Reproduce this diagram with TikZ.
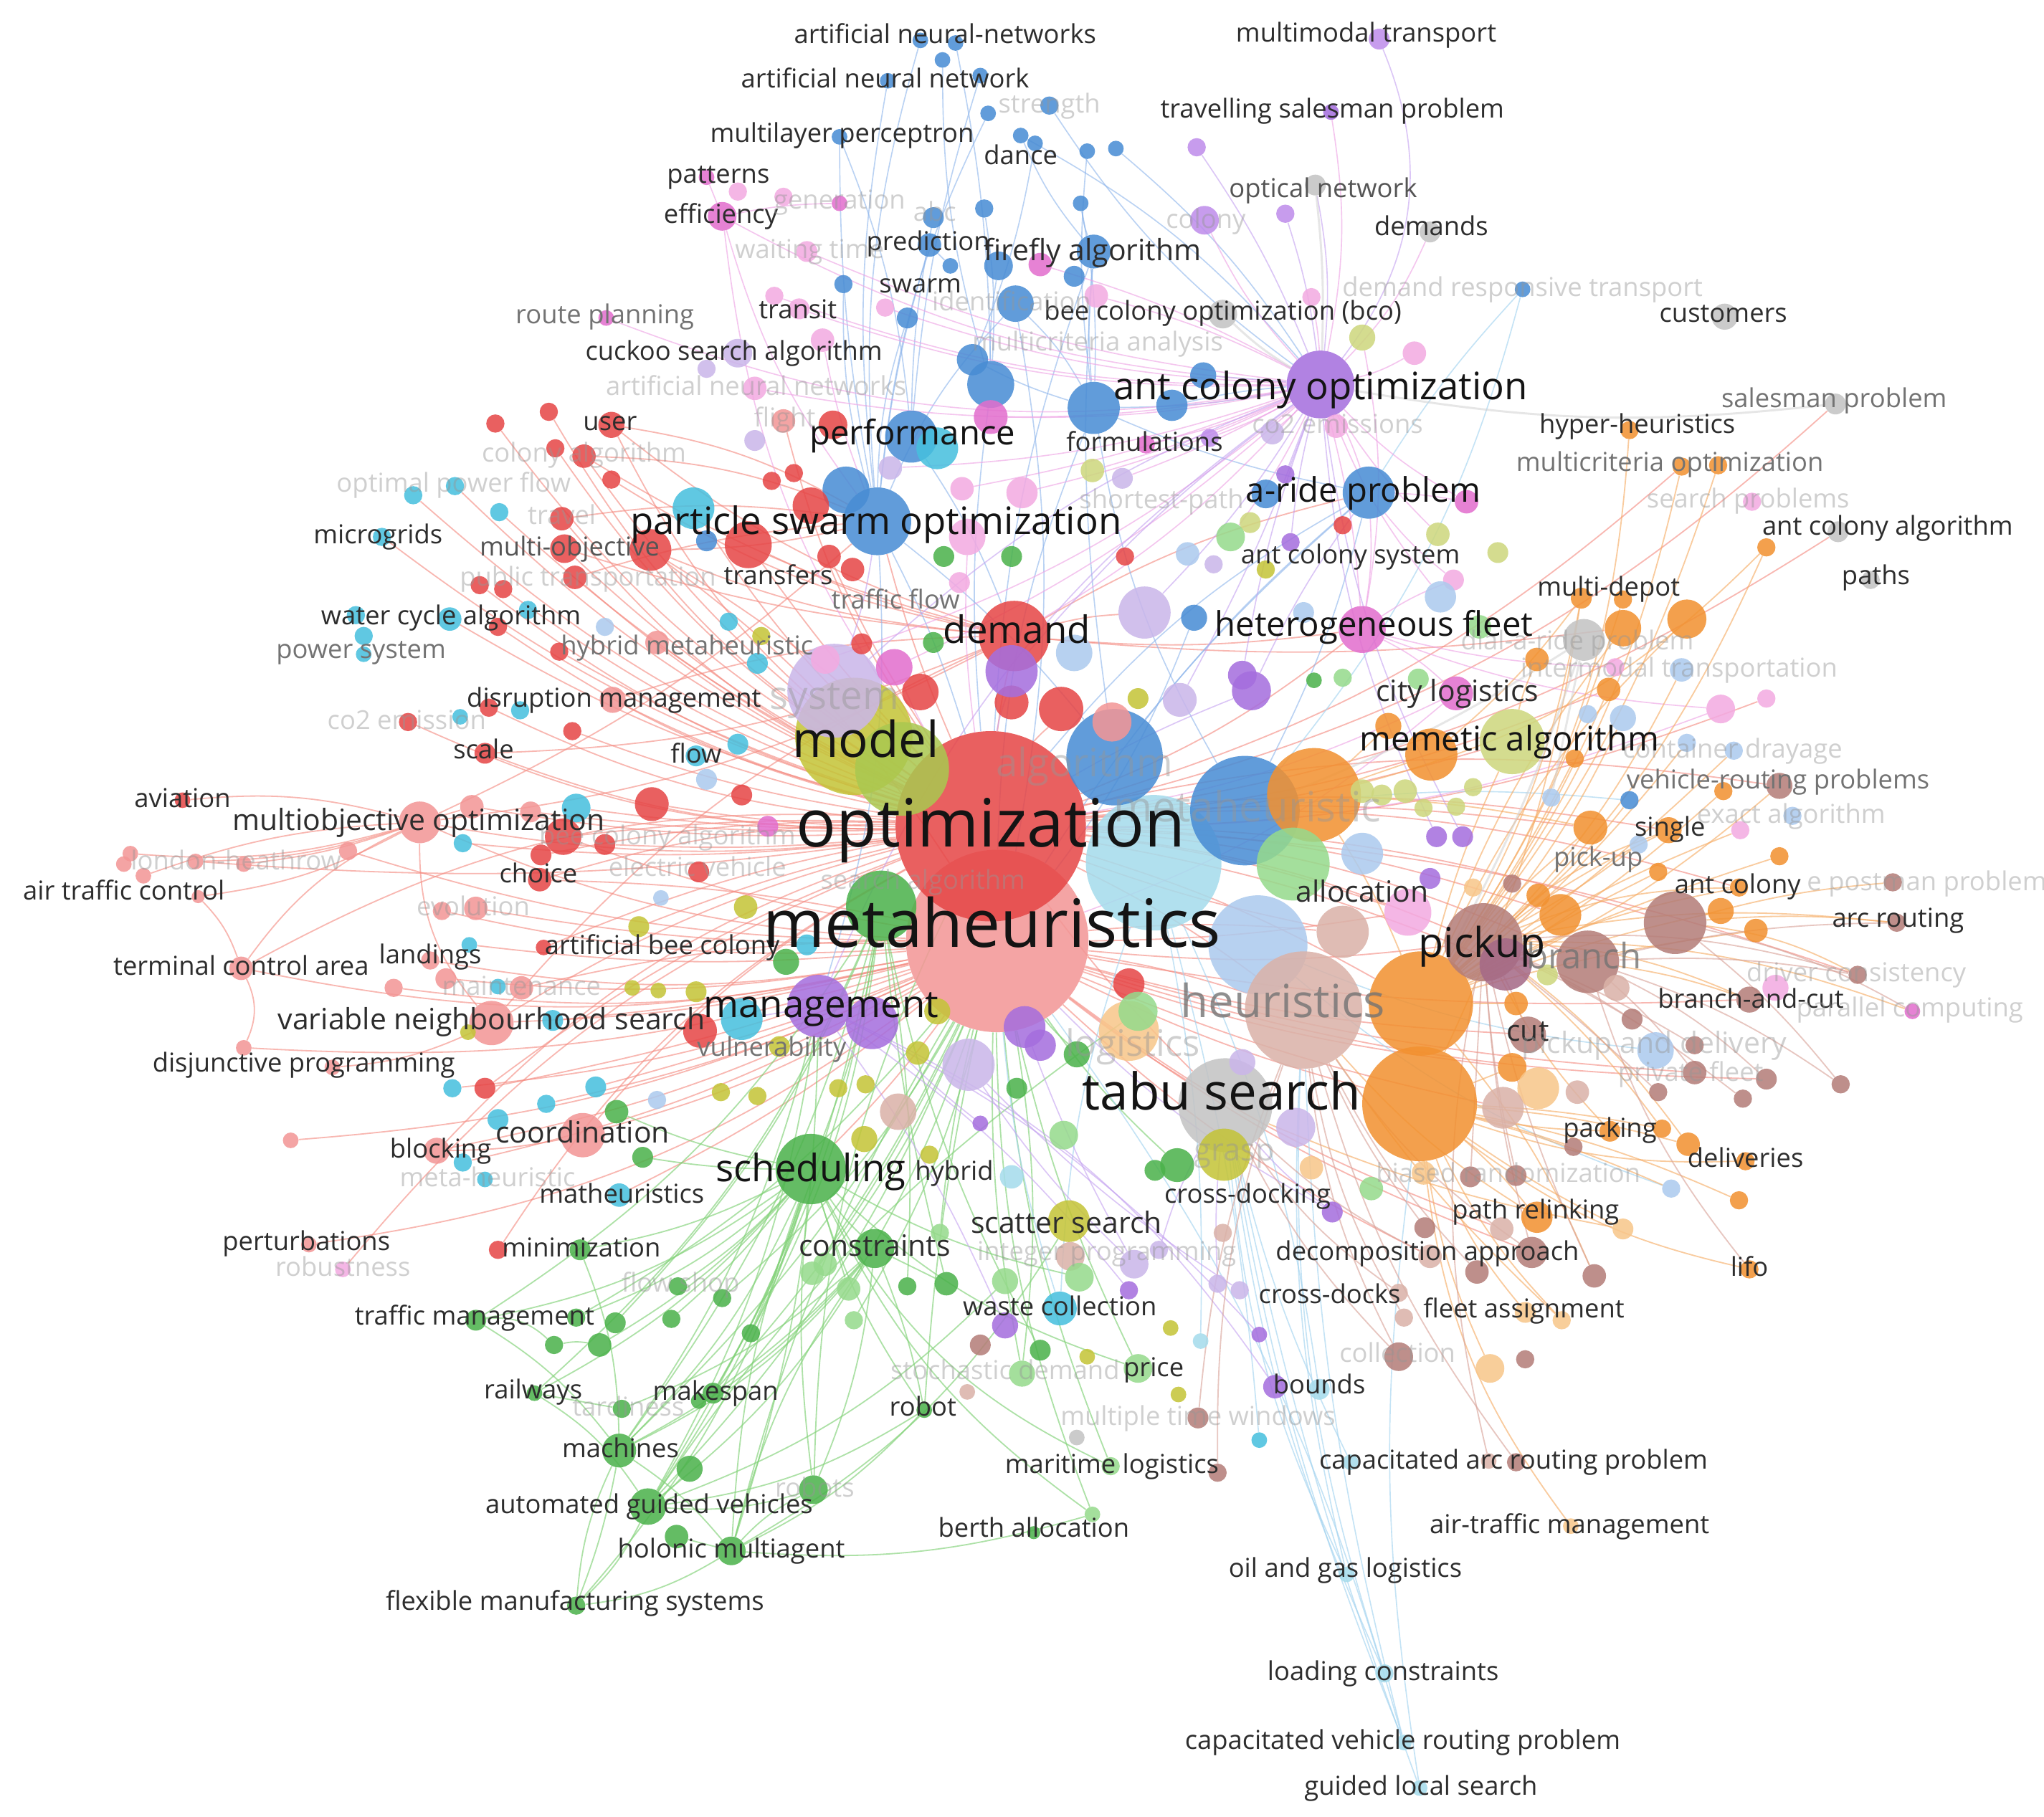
\documentclass[tikz,border=0pt]{standalone}
\usepackage{fontspec}
\setmainfont{Open Sans}
\pgfdeclarelayer{bg}
\pgfsetlayers{bg,main}
\definecolor{cR}{RGB}{230,70,70}
\definecolor{cS}{RGB}{243,150,150}
\definecolor{cB}{RGB}{72,140,212}
\definecolor{cC}{RGB}{70,192,222}
\definecolor{cG}{RGB}{75,178,75}
\definecolor{cLG}{RGB}{150,218,140}
\definecolor{cY}{RGB}{196,196,55}
\definecolor{cYG}{RGB}{205,215,125}
\definecolor{cYG2}{RGB}{170,200,80}
\definecolor{cP}{RGB}{165,110,222}
\definecolor{cP2}{RGB}{190,140,235}
\definecolor{cLP}{RGB}{202,182,234}
\definecolor{cM}{RGB}{226,110,205}
\definecolor{cLM}{RGB}{243,170,225}
\definecolor{cO}{RGB}{242,145,48}
\definecolor{cLO}{RGB}{248,198,138}
\definecolor{cBr}{RGB}{180,125,120}
\definecolor{cBr2}{RGB}{165,105,135}
\definecolor{cLBr}{RGB}{218,178,168}
\definecolor{cGr}{RGB}{195,195,195}
\definecolor{cLB}{RGB}{172,202,238}
\definecolor{cLC}{RGB}{165,220,236}
\definecolor{eR}{RGB}{245,140,130}
\definecolor{eG}{RGB}{130,210,120}
\definecolor{eB}{RGB}{140,180,235}
\definecolor{eLB}{RGB}{165,212,240}
\definecolor{eP}{RGB}{238,160,228}
\definecolor{ePu}{RGB}{195,160,240}
\definecolor{eO}{RGB}{246,172,100}
\definecolor{eBr}{RGB}{215,160,150}
\definecolor{eGr}{RGB}{210,210,210}
\definecolor{txt}{RGB}{45,45,45}
\definecolor{txtb}{RGB}{20,20,20}
\definecolor{txtg}{RGB}{115,115,115}
\definecolor{txtg2}{RGB}{85,85,85}
\definecolor{txtf}{RGB}{150,150,150}
\newcommand\fsz[1]{\fontsize{#1}{#1}\selectfont}
\begin{document}
\begin{tikzpicture}[x=1pt,y=-1pt,
  dot/.style={circle,inner sep=0pt,draw=none,fill opacity=0.86},
  lab/.style={anchor=base,inner sep=0pt,text=txt,font=\fsz{20},yshift=-5.4pt},
  labm/.style={anchor=base,inner sep=0pt,text=txt,font=\fsz{22.5},yshift=-6.1pt},
  labg/.style={anchor=base,inner sep=0pt,text=txtg,font=\fsz{20},yshift=-5.4pt},
  labg2/.style={anchor=base,inner sep=0pt,text=txtg2,font=\fsz{20},yshift=-5.4pt},
  labf/.style={anchor=base,inner sep=0pt,text=txtf,text opacity=0.45,font=\fsz{20},yshift=-5.4pt},
  big/.style={anchor=base,inner sep=0pt,text=txtb,font=\fsz{#1},yshift=-0.27*#1 pt},
  bigg/.style={anchor=base,inner sep=0pt,text=txtg,text opacity=0.8,font=\fsz{#1},yshift=-0.27*#1 pt},
  bigf/.style={anchor=base,inner sep=0pt,text=txtf,text opacity=0.45,font=\fsz{#1},yshift=-0.27*#1 pt},
  ered/.style={draw=eR,line width=1pt,draw opacity=0.62},
  egreen/.style={draw=eG,line width=1pt,draw opacity=0.65},
  eblue/.style={draw=eB,line width=0.9pt,draw opacity=0.6},
  elblue/.style={draw=eLB,line width=0.9pt,draw opacity=0.65},
  epink/.style={draw=eP,line width=0.9pt,draw opacity=0.6},
  epurple/.style={draw=ePu,line width=0.9pt,draw opacity=0.6},
  eorange/.style={draw=eO,line width=1pt,draw opacity=0.62},
  ebrown/.style={draw=eBr,line width=1pt,draw opacity=0.6},
  egrey/.style={draw=eGr,line width=1.6pt,draw opacity=0.55}]
\useasboundingbox (0,0) rectangle (1568,1394);

% ---------------- circles (big first) ----------------
\foreach \nm/\px/\py/\rr/\cc in {
 meta/765/722/70/cS, opt/760/634/73/cR, lcyan/885/662/52/cLC, lblue2/965/725/38/cLB,
 model/655/565/45/cY, modelg/692/590/36/cYG2, algo/855/581/37/cB, mh/955/622/42/cB,
 mhO/1008/610/36/cO, greenC/676/695/27/cG, lgreenR/992/663/28/cLG, sysP/640/530/36/cLP,
 heur/1000/775/45/cLBr, orA/1090/770/40/cO, orB/1089/847/44/cO, tabu/940/848/36/cGr,
 pick/1138/723/30/cBr, branch/1218/738/24/cBr, bigbr/1285/708/24/cBr, pick2/1155/740/20/cBr2,
 demand/778/488/27/cR, aco/1013/295/26/cP, pso/673/400/26/cB, pso2/649/376/18/cB,
 perf/699/335/20/cB, perfc/719/344/16/cC, sched/622/897/27/cG, mgmt/628/772/24/cP,
 mgmt2/669/785/20/cP, mgmt3/743/817/20/cLP, mem/1160/569/25/cYG, memO/1098/579/20/cO,
 aride/1050/378/20/cB, hetero/1045/483/18/cM, moo/322/631/16/cS, vns/377/785/17/cS,
 coord/447/871/17/cS, logi/866/791/23/cLO, grasp/939/886/20/cY, lbr1/1030/715/20/cLBr,
 lpk1/1080/700/18/cLM, pdel/1270/806/14/cLB, lbA/1045/655/16/cLB,
 purpC/960/530/15/cP, lpC/905/537/13/cLP, lpC2/878/470/20/cLP, lbC/824/501/14/cLB,
 rC1/814/544/17/cR, rC2/706/531/14/cR, rC3/776/539/13/cR, pC1/776/515/20/cP,
 sC1/853/554/15/cS, mC1/686/512/14/cM, lmC1/633/506/11/cLM, cyanL/569/782/16/cC,
 redL/537/791/13/cR, purpL2/786/788/16/cP, purpL3/798/802/12/cP, lbrS/689/853/14/cLBr,
 lpR/994/865/15/cLP, orM/1197/702/16/cO, orM2/1160/819/11/cO, loM/1180/835/16/cLO,
 lbrM/1153/850/16/cLBr, cut/1172/794/14/cBr, greyH/1215/491/16/cGr, orH1/1245/482/14/cO,
 orH2/1294/475/15/cO, city/1117/532/13/cM, orS/1220/635/13/cO}
 \node[dot,fill=\cc,minimum size=2*\rr] (\nm) at (\px,\py) {};

% ---------------- circles (small) ----------------
\foreach \nm/\px/\py/\rr/\cc in {
 ann1/706/31/6/cB, ann1b/733/33/6/cB, ann1c/723/46/6/cB, ann2/681/62/6/cB, bl2/752/58/6/cB,
 str/758/87/6/cB, str2/805/81/7/cB, mlp/644/105/6/cB, dance/783/104/6/cB, dance2/794/110/6/cB,
 bl3/834/116/6/cB, bl4/856/114/6/cB, pred/713/188/9/cB, bl5/716/167/8/cB, bl6/755/160/7/cB,
 bl7/829/156/6/cB, bl8/729/204/6/cB, fire/839/193/13/cB, bl9/766/204/11/cB, bl10/824/212/8/cB,
 pk1/798/203/9/cM, swarm/647/218/7/cB, bl11/696/244/8/cB, bee/779/233/14/cB, pk2/841/227/9/cLM,
 greyB/938/241/11/cGr, yg1/1045/259/10/cYG, mmt/1058/30/8/cP2, tsp/1021/86/6/cP, opt1/1009/142/8/cGr,
 dmds/1097/178/8/cGr, drt/1168/222/6/cB, cust/1323/243/10/cGr, pk3/1085/271/9/cLM, pu1/918/113/7/cP2,
 colony/924/169/11/cP2, pu2/986/164/7/cP2, pk4/1006/228/7/cLM, pat/542/136/6/cM, eff/554/166/11/cM,
 pk5/566/147/7/cLM, pk6/601/151/7/cLM, gen/644/156/6/cM, wait/619/193/8/cLM, rp/465/244/6/cM,
 pk7/594/227/7/cLM, tr/613/237/8/cLM, pk8/679/236/7/cLM, pk9/631/261/9/cLM, cuckoo/566/271/11/cLP,
 lp1/542/283/7/cLP, pk10/579/298/9/cLM, fl/601/323/9/cS, lp2/579/338/8/cLP,
 blA/746/276/12/cB, blB/760/295/18/cB, form1/839/313/20/cB, blC/923/288/10/cB, blD/899/311/12/cB,
 pkE/760/320/13/cM, form/879/341/7/cM, puE/928/336/7/cP2, lpE/976/332/9/cLP, pkF/1025/327/9/cLM,
 lpF/683/359/9/cLP, redF/639/326/11/cR, pkG/738/375/9/cLM, pkH/784/378/12/cLM, yF/838/361/9/cYG,
 lpG/861/367/8/cLP, pkA/1125/385/9/cM, puA/986/364/7/cP, blA2/971/379/11/cB, rA/1030/403/7/cR,
 yA/959/401/8/cYG, lgA/944/412/11/cLG, lbA2/911/425/9/cLB, puB/990/416/7/cP, yB/971/437/7/cY,
 rB/863/427/7/cR, lpB/931/433/7/cLP, ygA/1103/410/9/cYG, ygB/1149/424/8/cYG, pkB/1115/445/8/cLM,
 lbB/1105/458/12/cLB, pkI/742/412/14/cLM, gI/724/427/8/cG, gJ/776/427/8/cG, pkJ/736/447/8/cLM,
 cyI/532/390/16/cC, redI/574/418/18/cR, redJ/622/388/14/cR, redK/592/369/7/cR, redL2/609/363/7/cR,
 trf/636/427/9/cR, redM/654/437/9/cR, blI/542/415/8/cB,
 user/469/326/10/cR, rl1/380/325/7/cR, rl2/421/316/7/cR, rl3/426/344/7/cR, ca/448/350/9/cR,
 rl4/469/368/7/cR, trv/431/398/9/cR, rl5/433/421/11/cR, mo/499/422/16/cR, rl6/441/443/9/cR,
 rl7/368/449/7/cR, rl8/386/452/7/cR, cl1/317/380/7/cC, opf/349/373/7/cC, cl2/383/393/7/cC,
 micro/293/412/7/cC, wca1/273/472/7/cC, wca2/279/488/7/cC, ps/279/502/6/cC, wca3/345/475/9/cC,
 rl9/382/481/7/cR, cl3/405/468/7/cC, lbl1/464/481/7/cLB, hm/429/500/7/cR, sl1/504/493/9/cS,
 dr1/375/543/7/cR, cl4/353/550/6/cC, cl5/399/545/7/cC, sl2/470/537/10/cS, rl10/439/561/7/cR,
 co2/313/554/7/cR, scale/372/578/8/cR, av/140/614/6/cR, sl3/362/619/9/cS, sl4/407/623/8/cS,
 cl6/442/620/11/cC, rl11/500/617/13/cR, cl7/355/647/7/cC, rl12/432/642/14/cR, rl13/464/648/8/cR,
 rl14/415/656/8/cR, sl5/267/653/7/cS, lh1/100/655/6/cS, lh2/95/663/6/cS, lh3/150/661/6/cS,
 lh4/187/663/6/cS, lh5/110/672/6/cS, atc/152/688/5/cS, choice/414/675/9/cR, ev1/339/699/7/cS,
 ev2/365/697/9/cS, land/360/725/6/cC, sl6/330/737/7/cS, tca/185/743/9/cS, sl7/302/758/7/cS,
 sl8/342/751/8/cS, mt/400/758/9/cS, cl8/382/757/6/cC, abc/417/727/6/cR, yL1/490/711/8/cY,
 yL2/485/758/6/cY, yL3/505/760/6/cY, lbL/507/689/6/cLB, cl9/424/783/8/cC, yL4/359/792/6/cY,
 dj1/187/804/6/cS, dj2/255/819/6/cS, cl10/347/835/7/cC, rl15/372/835/8/cR, cl11/419/847/7/cC,
 cl12/457/834/8/cC, lbl2/504/844/7/cLB, gL1/473/853/9/cG, blk/335/883/10/cS, cl13/355/892/7/cC,
 cl14/382/859/8/cC, sl9/223/875/6/cS, gL2/493/888/8/cG, mh2/372/905/6/cC, math/475/917/9/cC,
 pert/237/955/6/cS, rob/263/974/6/cLM, minr/382/959/7/cR, min/445/959/8/cG, fs/520/987/7/cG,
 tm/365/1013/8/cG, gT1/442/1011/7/cG, gT2/472/1015/8/cG, gT3/425/1032/7/cG, gT4/460/1032/9/cG,
 gT5/515/1012/7/cG, rw/410/1069/6/cG, tard/477/1081/7/cG, mach/475/1113/13/cG, agv/497/1156/14/cG,
 gA1/519/1179/9/cG, gA2/529/1127/10/cG, hol/561/1190/11/cG, fms/442/1232/7/cG,
 cons/671/958/15/cG, lgC1/623/977/9/cLG, lgC2/633/970/9/cLG, gC1/696/987/7/cG, gC2/726/985/9/cG,
 lgC3/651/989/9/cLG, lgC4/655/1013/7/cLG, gC3/576/1023/7/cG, gC4/554/996/7/cG, lgC5/721/946/7/cLG,
 mk/547/1069/8/cG, mk2/536/1075/6/cG, ss/820/937/16/cY, lbrS1/821/964/11/cLBr, lgS1/828/980/11/cLG,
 lgS2/771/983/10/cLG, lpS1/870/970/11/cLP, lpS2/889/959/7/cLP, puS1/866/990/7/cP, lpS3/934/985/7/cLP,
 lpS4/951/990/7/cLP, lbrS2/938/946/7/cLBr, wc/813/1004/13/cC, puW/771/1017/10/cP, brW/752/1032/8/cBr,
 gW/798/1036/8/cG, yW/834/1041/6/cY, yW2/898/1019/6/cY, lcW/921/1029/6/cLC, puW2/966/1024/6/cP,
 sd/784/1054/10/cLG, lbrW/742/1068/6/cLBr, price/873/1050/11/cLG, yP/904/1070/6/cY, bnd/978/1064/9/cP,
 bnd2/1012/1066/8/cLC, robot/709/1082/6/cG, mtw/919/1088/8/cBr, grW/826/1103/6/cGr, cyW/966/1105/6/cC,
 robots/624/1143/11/cG, mar/852/1125/7/cLG, mar2/934/1130/7/cBr, berth/838/1162/6/cLG, berth2/793/1176/5/cG,
 oil/1033/1208/6/cLC, carp0/1036/1122/6/cLC, carp1/1142/1121/6/cLBr, carp2/1163/1122/7/cBr,
 load/1062/1284/7/cLC, cvrp/1077/1337/6/cLC, gls/1089/1372/6/cLC, atm/1205/1171/6/cLO,
 pr1/1179/934/12/cO, pr2/1245/943/8/cLO, pr3/1152/943/9/cLBr, pr4/1093/942/8/cBr,
 dec1/1097/964/9/cLBr, dec2/1133/976/9/cBr, dec3/1175/961/12/cBr, dec4/1223/979/9/cBr,
 lifo/1342/974/7/cO, cd1/1073/992/7/cLBr, cd2/1077/1011/7/cLBr, fa1/1170/1007/8/cLO, fa2/1198/1013/7/cLO,
 col1/1073/1041/11/cBr, col2/1143/1050/11/cLO, col3/1170/1043/7/cBr, cdk/1022/930/8/cP,
 hh/1250/330/7/cO, mco1/1290/358/7/cO, mco2/1318/357/7/cO, spb/1344/385/7/cLM, sp/1408/310/8/cGr,
 aca/1410/408/8/cGr, aca2/1355/420/7/cO, paths/1435/445/7/cGr, md/1213/459/8/cO, md2/1245/460/7/cO,
 lgH1/1088/521/8/cLG, lgH2/1135/481/9/cLG, orH3/1179/506/9/cO, lbH1/1290/514/9/cLB, lpkH/1239/512/7/cLM,
 orH4/1234/529/9/cO, lpkH2/1320/544/11/cLM, lpkH3/1355/536/7/cLM, lbH2/1218/548/7/cLB, lbH3/1245/551/10/cLB,
 orH5/1065/557/10/cO, orM3/1208/582/7/cO, lbM1/1294/570/7/cLB, lbM2/1330/576/7/cLB,
 yg2/1045/607/9/cYG, yg3/1060/610/8/cYG, yg4/1078/607/9/cYG, yg5/1092/620/7/cYG, yg6/1117/619/7/cYG,
 yg7/1130/604/7/cYG, lbM3/1190/612/7/cLB, bM/1250/614/7/cB, oM/1322/607/7/cO, vrp/1365/603/10/cBr,
 lbM4/1375/626/7/cLB, single/1280/637/10/cO, lpkM/1335/637/7/cLM, oM2/1365/657/7/cO, oM3/1272/669/7/cO,
 lbM5/1257/648/7/cLB, puM1/1102/642/8/cP, puM2/1122/642/8/cP, puM3/1097/674/8/cP, loM2/1130/681/7/cLO,
 brM1/1160/678/7/cBr, orM4/1180/687/9/cO, antc/1334/681/7/cO, orR1/1320/699/10/cO, orR2/1347/714/9/cO,
 brR1/1452/677/7/cBr, arcr/1455/708/7/cBr, lbrR/1240/758/10/cLBr, ygR/1187/748/8/cYG, dc/1425/748/7/cBr,
 bac/1342/767/10/cBr, lpkR/1362/758/10/cLM, par/1467/776/6/cM, orR3/1163/770/9/cO, brR2/1252/782/8/cBr,
 brR3/1300/802/7/cBr, brR4/1300/823/9/cBr, brR5/1355/828/8/cBr, brR6/1412/832/7/cBr, brR7/1337/843/7/cBr,
 brR8/1272/838/7/cBr, lbrR2/1210/838/9/cLBr, pack/1235/868/8/cO, orR4/1275/866/7/cO, orR5/1295/878/9/cO,
 del/1339/891/7/cO, loR/1092/900/9/cLO, brR9/1128/903/8/cBr, brR10/1163/902/8/cBr, brR11/1207/880/7/cBr,
 lbR/1282/912/7/cLB, orR6/1334/921/7/cO, lgR/1052/912/9/cLG, lgH3/1030/520/7/cLG, gH/1008/522/6/cG,
 blC2/916/474/10/cB, puC2/953/518/11/cP, lbC3/1000/470/8/cLB, cyC1/559/477/7/cC, yC1/584/488/7/cY,
 cyC2/581/509/8/cC, rC4/661/494/8/cR, gC5/716/493/8/cG, yC2/873/536/8/cY, cyC3/566/571/8/cC,
 rC5/569/610/8/cR, mC2/589/634/8/cM, rC6/536/669/8/cR, lbC4/542/598/8/cLB, flow/534/580/8/cC,
 yC3/572/696/9/cY, cyC4/619/725/8/cC, gC6/603/738/10/cG, yC4/534/761/8/cY, yC5/719/776/10/cY,
 yC6/704/808/9/cY, yC7/664/832/7/cY, yC8/643/835/7/cY, yC9/553/838/7/cY, yC10/581/841/7/cY,
 puC3/752/862/6/cP, gC7/780/835/8/cG, lgC7/816/871/11/cLG, rC7/866/755/12/cR, lgC8/873/776/15/cLG,
 gC8/826/809/10/cG, gC9/903/894/13/cG, gC10/886/898/8/cG, lpC4/953/815/10/cLP, loC/1006/896/9/cLO,
 hyb/776/903/9/cLC, yC11/663/874/10/cY, yC12/713/886/7/cY, vul/598/803/8/cY}
 \node[dot,fill=\cc,minimum size=2*\rr] (\nm) at (\px,\py) {};

% ---------------- labels ----------------
\foreach \px/\py/\tx [count=\i] in {
 725/28/{artificial neural-networks}, 1048/27/{multimodal transport}, 679/62/{artificial neural network},
 1022/85/{travelling salesman problem}, 646/104/{multilayer perceptron}, 783/121/{dance}, 551/135/{patterns},
 553/166/{efficiency}, 1098/175/{demands}, 712/187/{prediction}, 706/219/{swarm}, 612/239/{transit},
 938/240/{bee colony optimization (bco)}, 1322/242/{customers}, 563/271/{cuckoo search algorithm},
 468/325/{user}, 878/341/{formulations}, 1256/327/{hyper-heuristics}, 290/412/{microgrids},
 1448/405/{ant colony algorithm}, 1036/427/{ant colony system}, 597/443/{transfers}, 1439/443/{paths},
 1234/452/{multi-depot}, 346/474/{water cycle algorithm}, 471/537/{disruption management}, 371/577/{scale},
 534/580/{flow}, 140/614/{aviation}, 1281/636/{single}, 1333/680/{ant colony}, 413/672/{choice},
 95/685/{air traffic control}, 1456/706/{arc routing}, 330/734/{landings}, 185/743/{terminal control area},
 508/727/{artificial bee colony}, 1343/768/{branch-and-cut}, 233/817/{disjunctive programming},
 1235/867/{packing}, 338/883/{blocking}, 1339/890/{deliveries}, 732/900/{hybrid}, 477/918/{matheuristics},
 957/918/{cross-docking}, 1178/930/{path relinking}, 235/954/{perturbations}, 446/959/{minimization},
 1095/962/{decomposition approach}, 1342/974/{lifo}, 1020/995/{cross-docks}, 364/1011/{traffic management},
 813/1004/{waste collection}, 1169/1006/{fleet assignment}, 409/1068/{railways}, 549/1069/{makespan},
 885/1051/{price}, 1012/1064/{bounds}, 708/1081/{robot}, 476/1113/{machines}, 853/1125/{maritime logistics},
 1161/1122/{capacitated arc routing problem}, 498/1156/{automated guided vehicles}, 793/1174/{berth allocation},
 1204/1171/{air-traffic management}, 561/1190/{holonic multiagent}, 1032/1205/{oil and gas logistics},
 441/1230/{flexible manufacturing systems}, 1061/1284/{loading constraints},
 1076/1337/{capacitated vehicle routing problem}, 1090/1372/{guided local search}}
 \node[lab] (La\i) at (\px,\py) {\tx};

\foreach \px/\py/\tx [count=\i] in {
 838/194/{firefly algorithm}, 1118/532/{city logistics}, 1045/686/{allocation}, 1172/793/{cut},
 818/940/{scatter search}, 671/958/{constraints}, 447/871/{coordination}, 321/631/{multiobjective optimization},
 377/784/{variable neighbourhood search}}
 \node[labm] (Lb\i) at (\px,\py) {\tx};

\foreach \px/\py/\tx [count=\i] in {
 464/243/{route planning}, 1407/307/{salesman problem}, 1281/356/{multicriteria optimization},
 687/462/{traffic flow}, 527/497/{hybrid metaheuristic}, 277/500/{power system},
 1364/600/{vehicle-routing problems}, 1226/659/{pick-up}, 592/805/{vulnerability}}
 \node[labg] (Lc\i) at (\px,\py) {\tx};

\foreach \px/\py/\tx [count=\i] in {1015/146/{optical network}, 437/421/{multi-objective}}
 \node[labg2] (Ld\i) at (\px,\py) {\tx};

\foreach \px/\py/\tx [count=\i] in {
 805/81/{strength}, 644/155/{generation}, 621/193/{waiting time}, 717/164/{abc}, 925/170/{colony},
 776/233/{identification}, 1168/222/{demand responsive transport}, 842/264/{multicriteria analysis},
 580/298/{artificial neural networks}, 602/322/{flight}, 1026/327/{co2 emissions}, 448/349/{colony algorithm},
 348/372/{optimal power flow}, 891/385/{shortest-path}, 1341/384/{search problems}, 431/397/{travel},
 451/444/{public transportation}, 1210/493/{dial-a-ride problem}, 1288/514/{intermodal transportation},
 312/554/{co2 emission}, 1329/576/{container drayage}, 1374/626/{exact algorithm}, 181/662/{london-heathrow},
 512/643/{bee colony algorithm}, 535/667/{electric vehicle}, 708/677/{search algorithm}, 363/697/{evolution},
 400/758/{maintenance}, 1424/748/{driver consistency}, 1465/775/{parallel computing}, 1297/824/{private fleet},
 374/905/{meta-heuristic}, 1157/902/{biased randomization}, 849/962/{integer programming}, 263/974/{robustness},
 522/986/{flow shop}, 1072/1040/{collection}, 771/1053/{stochastic demand}, 482/1081/{tardiness},
 919/1088/{multiple time windows}, 625/1143/{robots}}
 \node[labf] (Le\i) at (\px,\py) {\tx};
\node[labf,anchor=base west] (Lf1) at (1386,678) {e postman problem};

% faded / grey big labels
\node[bigf=30] (Lg1) at (640,536) {system};
\node[bigf=30] (Lg2) at (832,588) {algorithm};
\node[bigf=32] (Lg3) at (957,622) {metaheuristic};
\node[bigf=28] (Lg4) at (869,803) {logistics};
\node[bigf=24] (Lg5) at (947,884) {grasp};
\node[bigf=22.5] (Lg6) at (1269,802) {pickup and delivery};
\node[bigg=35] (Lg7) at (984,771) {heuristics};
\node[bigg=27] (Lg8) at (1215,736) {branch};

% big dark labels
\node[big=51] (Lh1) at (760,636) {optimization};
\node[big=51] (Lh2) at (761,713) {metaheuristics};
\node[big=39] (Lh3) at (937,841) {tabu search};
\node[big=38] (Lh4) at (664,571) {model};
\node[big=29] (Lh5) at (672,402) {particle swarm optimization};
\node[big=29] (Lh6) at (1013,299) {ant colony optimization};
\node[big=29] (Lh7) at (780,486) {demand};
\node[big=29] (Lh8) at (630,773) {management};
\node[big=29] (Lh9) at (622,899) {scheduling};
\node[big=31.5] (Lh10) at (1137,726) {pickup};
\node[big=26] (Lh11) at (700,334) {performance};
\node[big=26] (Lh12) at (1054,481) {heterogeneous fleet};
\node[big=26] (Lh13) at (1046,378) {a-ride problem};
\node[big=26] (Lh14) at (1158,569) {memetic algorithm};

% ---------------- connectors ----------------
\begin{pgfonlayer}{bg}
\fill[white] (0,0) rectangle (1568,1394);
\foreach \a/\b/\k in {
 opt/user/14, opt/ca/10, opt/mo/-6, opt/trv/12, opt/rl5/8, opt/redI/4, opt/choice/-8, opt/scale/10,
 opt/sl2/6, opt/moo/8, opt/rl11/4, opt/dr1/10, opt/co2/12, opt/rl9/10, opt/trf/4, opt/vns/-8,
 opt/coord/-10, opt/blk/-14, opt/tca/-16, meta/vns/6, meta/coord/8, meta/moo/10, meta/blk/8,
 meta/tca/12, meta/land/6, meta/mt/-6, meta/ev2/5, meta/choice/-5, moo/av/-10, moo/lh3/8, moo/atc/10,
 moo/tca/-14, tca/dj1/25, tca/atc/-12, demand/user/10, demand/mo/8, demand/redI/6, pso/user/-10,
 pso/mo/6, opt/sl1/5, opt/rl12/-4, opt/abc/-6, meta/sl6/10, opt/minr/-14, demand/scale/10,
 meta/pert/14, vns/dj2/10, coord/blk/5, opt/rob/-14, meta/sl9/10, opt/rl15/-8, opt/hm/6, opt/rl7/10,
 opt/rl8/8, opt/rl10/6, demand/sl2/-8, pso/ca/-10, opt/rl1/12, opt/rl2/14, demand/rl4/10,
 opt/hetero/-8, opt/pick/8, opt/orA/6, meta/pick/-6, meta/orB/-5, opt/branch/10, demand/aride/8,
 opt/mem/-6, meta/heur/4, demand/hetero/-6, opt/demand/3, opt/pso/4, meta/sched/4, opt/cyI/8,
 opt/micro/10, opt/opf/10, opt/wca3/8, meta/math/6, meta/cl13/8, opt/cl6/4, meta/rl15/4, opt/flow/3,
 opt/fl/10, meta/tabu/-3, opt/heur/5, opt/tabu/-4, opt/bigbr/8, meta/bac/-6, opt/antc/10,
 opt/single/8, opt/vrp/10, meta/dec3/-8, opt/mco1/-12, opt/sp/-14, opt/aca/-12,
 opt/rl3/12, opt/rl6/8, opt/rl13/4, opt/rl14/-6, opt/sl3/6, opt/sl4/4, meta/sl5/8, meta/sl7/10,
 meta/sl8/8, opt/cl7/6, meta/cl9/4, meta/cl10/8, meta/cl11/6, meta/cl12/4, meta/ev1/8, moo/lh1/10,
 moo/lh4/6, moo/lh5/-8, opt/yL1/-4, meta/rl12/5, demand/rl5/6, demand/ca/8, pso/trv/-8, pso/rl6/-6,
 opt/lh3/6, meta/dj1/10, demand/moo/10, demand/vns/-12, pso/moo/8, moo/vns/-20, moo/sl3/0,
 meta/mo/-10, opt/cl1/10, opt/cl2/8, meta/lpk1/-4, opt/lpk1/6, demand/lpC2/6, opt/rC1/4, meta/lbr1/5,
 opt/pick2/6, opt/orM/8, meta/cut/-6, meta/orM2/-6, opt/lbr1/-4, meta/lbrM/-5, opt/orS/6, meta/dec1/-8,
 meta/pr3/-8, opt/orH4/-8, opt/lpkH3/-10, meta/brR4/-6, meta/brR5/-8, opt/dc/8, demand/orH1/-6}
 \draw[ered] (\a) to[bend left=\k] (\b);
\foreach \a/\b/\k in {
 sched/mach/10, sched/agv/8, sched/hol/-8, sched/fms/12, sched/mk/6, sched/rw/10, sched/tm/12,
 sched/robots/-6, sched/robot/-8, sched/min/8, sched/fs/6, sched/gT1/10, sched/gT4/8, cons/agv/10,
 cons/hol/-10, cons/mach/12, meta/agv/10, meta/hol/-8, meta/mach/8, robots/hol/-10, robots/agv/10,
 mach/hol/8, agv/fms/10, agv/rw/-12, tm/mach/10, min/mach/10, meta/berth/-10, meta/mar/-8,
 cons/robots/8, sched/gC3/5, mach/fms/-10, hol/fms/12, gA2/agv/5, meta/sd/-6, greenC/sched/6,
 greenC/agv/10, greenC/mach/10, sched/berth/-14, sched/price/-12, agv/robot/-12, hol/robot/-10,
 opt/robots/-12, tm/gT3/25, gT3/gT4/10, cons/robot/5, sched/mar/-18, hol/berth/-10, agv/lgS2/-12,
 mach/cons/-10, hol/ss/-14, sched/lgS1/-8, greenC/tm/12, greenC/rw/12, mgmt/agv/10, mgmt/hol/8,
 cons/tard/10, sched/gT5/5, hol/gA1/0, rw/tard/0, fms/mach/-5,
 greenC/gC1/6, greenC/gC2/-4, meta/lgC1/4, meta/lgC2/6, meta/lgC3/6, meta/lgC4/8, meta/gC4/10,
 greenC/gC3/10, meta/lgC5/-4, meta/mk/8, greenC/mk/10, sched/lgC3/0, cons/gC2/0, meta/sd/8,
 greenC/gW/-8, meta/price/-6, meta/robot/-4, sched/gL1/6, sched/gL2/4, greenC/gT2/10, mgmt/mach/10,
 meta/gC8/-4, meta/gC9/-6, lgC8/agv/-10, meta/gT1/10, sched/cons/-6, cons/mk/5}
 \draw[egreen] (\a) to[bend left=\k] (\b);
\foreach \a/\b/\k in {
 pso/ann1/10, pso/ann2/8, pso/mlp/5, aco/dance/-10, fire/dance/8, pso/pred/5, pso/swarm/8,
 opt/fire/8, meta/bee/-10, aco/str2/10, perf/bl5/5, blB/bl9/5, pso/bee/10, form1/bee/-8,
 form1/fire/5, blB/ann1b/-5, perf/mlp/-8, pso/bl11/8, aco/form1/5, form1/blA/5, opt/pso/-5,
 opt/aride/10, meta/aride/8, pso/str/10, blB/ann1c/8, form1/bl7/-6, form1/bl3/6, aco/bl4/-8,
 opt/blB/6, meta/form1/10, pso/mgmt/10, perf/demand/6, algo/pso/-6, algo/aride/5, algo/fire/6,
 mh/aride/-6, mh/form1/10, fire/bl7/6, blB/bl6/-6, pred/bl8/0, perf/bl2/6, blA/dance2/-6,
 form1/aride/-6, aco/blC/0, aco/blD/-4, meta/blC2/-8}
 \draw[eblue] (\a) to[bend left=\k] (\b);
\foreach \a/\b/\k in {
 tabu/oil/-10, tabu/load/-8, tabu/cvrp/-6, tabu/gls/-4, heur/load/-10, meta/cvrp/10, heur/cvrp/-6,
 orB/gls/-8, tabu/carp0/-6, heur/oil/-8, lcyan/bnd2/8, meta/wc/-6, lcyan/wc/-8, lcyan/cyW/5,
 mh/drt/-12, aride/drt/5, lblue2/pdel/-8, mh/bM/6, lblue2/lbR/-10, lcyan/lcW/6}
 \draw[elblue] (\a) to[bend left=\k] (\b);
\foreach \a/\b/\k in {
 aco/tsp/-10, aco/colony/8, aco/form/5, aco/aride/5, aride/hetero/6, aco/hetero/5, aco/puE/4,
 aco/lpE/3, aco/pkF/3, aco/dmds/-10, hetero/city/8, aco/eff/12, eff/pso/-10, opt/eff/15, aco/pk2/-6,
 aco/pkA/-8, aco/demand/8, aco/pkH/6, aco/pkG/5, hetero/pkB/6, aride/pkA/4, aco/ygA/-6, aco/pk3/-8,
 aco/pk4/-4, aco/tr/10, aco/wait/8, pso/pk9/5, opt/pkI/5, opt/lpkH2/-10, hetero/lpkH/-6, opt/city/-8,
 meta/city/-10, aco/lgA/5, aco/lbB/-8, hetero/yg1/-10, aco/rp/15, eff/pat/0, eff/gen/5,
 aco/pkE/6, aco/pk1/-6, aco/pk8/8, aco/pk7/10, aco/pk10/10, opt/mC1/4, aco/mC1/8, aco/lmC1/10,
 hetero/lpkH2/-8, aride/pkB/-6, aco/lpG/4, aco/yF/4, aco/lpF/8}
 \draw[epink] (\a) to[bend left=\k] (\b);
\foreach \a/\b/\k in {
 aco/mmt/-30, aco/pu1/-6, aco/opt1/-8, aco/pu2/-5, mgmt/aco/15, opt/purpC/4, mgmt/bnd/15, mgmt/puW/6,
 mgmt3/lpS1/-6, tabu/lpS2/-6, tabu/lpS3/-4, meta/cdk/-8, tabu/cdk/-6, mgmt/puS1/8, pC1/aco/6,
 opt/pC1/4, mgmt/mgmt2/0, sysP/aco/10, sysP/pso/-5, mgmt/cyanL/0, purpC/aride/5, puC2/aco/5,
 aco/puA/0, aco/puB/-4, mgmt/puW2/10, mgmt3/lpS4/-6, purpL2/lpS1/-4, aco/lpC2/6, aco/lpC/4,
 mgmt2/puC3/-4, aco/puM1/-10, aco/puM2/-10}
 \draw[epurple] (\a) to[bend left=\k] (\b);
\foreach \a/\b/\k in {
 orA/hh/-15, orA/md/-10, orB/md/-8, orA/single/8, orA/antc/8, pick/single/10, pick/antc/10,
 pick/arcr/8, pick/bac/10, branch/bac/5, pick/pack/-8, orB/pack/-5, orB/del/-10, orB/lifo/-12,
 heur/pr1/-8, orB/pr1/5, orA/mem/5, orA/orH2/10, orA/orH1/8, mhO/orA/5, orB/atm/-15, orB/fa1/-10,
 orA/mco1/-12, mhO/aca2/-15, pick/par/10, bigbr/brR1/5, bigbr/arcr/5, bigbr/orR1/0, bigbr/dc/10,
 orA/vrp/-8, orB/orR5/5, orA/orS/5, orA/lbH1/-10, orA/oM/-6, orB/orR6/6, orA/orR2/4, mem/orH3/5,
 memO/md/-6, orA/mco2/-10, orA/lpkM/6, pick/orR5/8, orA/dec4/8, heur/fa2/-6, orB/col2/-8,
 tabu/pr2/-6, orA/aca2/-12, mhO/orH5/0,
 orA/orH4/-6, orA/lbH3/-8, orA/md2/-8, orA/orM3/-4, orA/lbM1/-6, orA/lbM2/-4, orA/oM2/4, orA/oM3/2,
 orB/orR4/4, orB/pr2/-4, orB/loR/0, orB/lbR/4, orA/orR3/0, orB/orM2/0, orA/orM4/-2, orB/brR11/2,
 pick/orR4/6, pick/lbM5/-4, pick/bM/-6, orA/orR1/4, mhO/orS/4, mhO/memO/0, orB/fa2/-8}
 \draw[eorange] (\a) to[bend left=\k] (\b);
\foreach \a/\b/\k in {
 heur/dec3/-10, heur/col1/-10, pick/dec3/-5, tabu/dec1/-8, tabu/cd1/-10, pick/cut/5, branch/brR4/5,
 branch/brR5/8, branch/brR6/8, pick/brR7/6, pick/dc/10, bigbr/par/8, pick/brR2/4, branch/lifo/-10,
 heur/carp2/-10, heur/mtw/-8, pick/dec4/-6, tabu/col1/-8, pick/carp1/-12, heur/mar2/-10,
 pick/brR9/0, branch/arcr/6, pick/brR3/4, pick/brR8/2, heur/dec2/-8, heur/pr4/-6, pick/brR10/-4,
 heur/cd2/-10, branch/dc/6, bigbr/brR6/6}
 \draw[ebrown] (\a) to[bend left=\k] (\b);
\foreach \a/\b/\k in {greyH/mh/5, greyH/orA/5, greyH/lbM3/0, aco/sp/-8, greyB/aco/-6, opt1/aco/4}
 \draw[egrey] (\a) to[bend left=\k] (\b);
\end{pgfonlayer}
\end{tikzpicture}
\end{document}
